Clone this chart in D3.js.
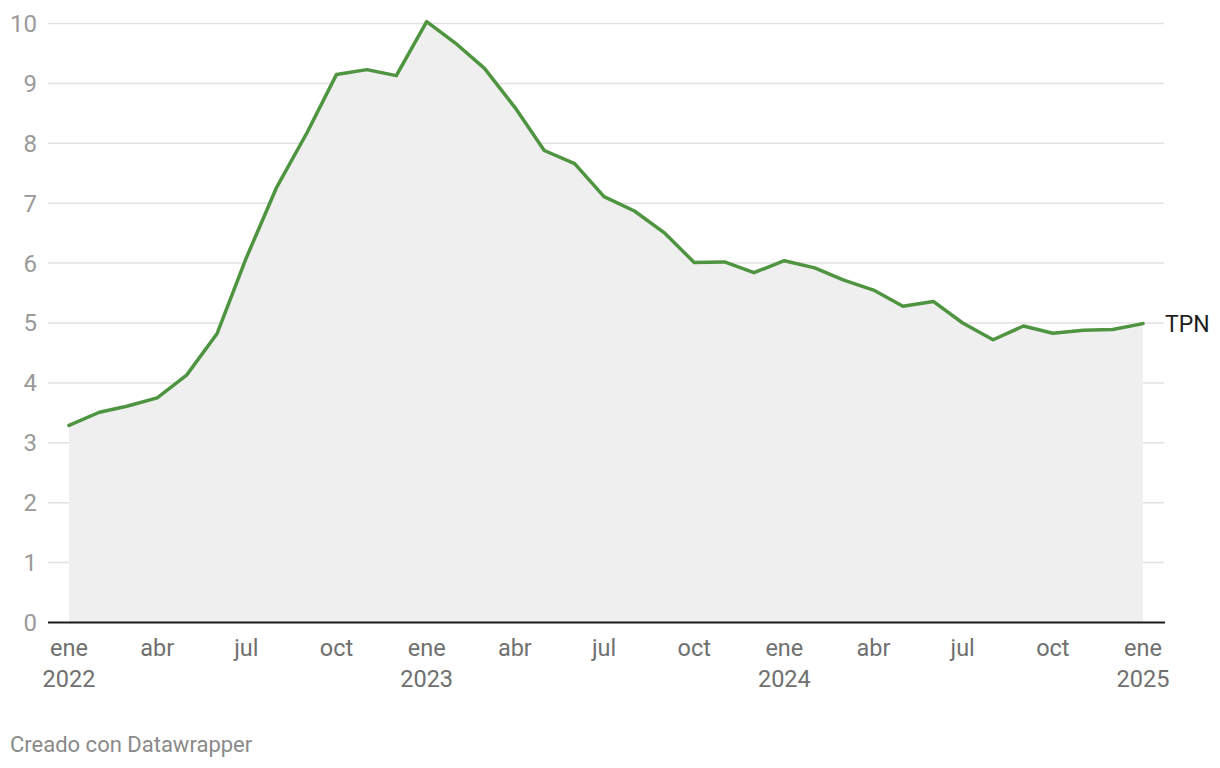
<!DOCTYPE html>
<html><head><meta charset="utf-8">
<script src="https://cdn.jsdelivr.net/npm/d3@7"></script>
<style>
body{margin:0;background:#fff;font-family:Roboto,"Noto Sans",sans-serif;}
</style></head>
<body><svg id="c" width="1220" height="768"></svg>
<script>
const seriesName = "TPN";
const startMonth = "2022-01";
const values = [3.29,3.51,3.61,3.75,4.13,4.82,6.09,7.27,8.18,9.15,9.23,9.13,
  10.03,9.65,9.25,8.60,7.88,7.66,7.11,6.87,6.50,6.01,6.02,5.84,
  6.04,5.92,5.72,5.55,5.28,5.36,5.00,4.72,4.95,4.83,4.88,4.89,
  4.99];
const yTicks = [0,1,2,3,4,5,6,7,8,9,10];
const monthLabels = ["ene","feb","mar","abr","may","jun","jul","ago","sep","oct","nov","dic"];
const xTickMonths = [0,3,6,9,12,15,18,21,24,27,30,33,36];
const creditText = "Creado con Datawrapper";

const svg = d3.select("#c");
const parse = d3.timeParse("%Y-%m");
const t0 = parse(startMonth);
const data = values.map((v,i)=>({date:d3.timeMonth.offset(t0,i), v}));

const x = d3.scaleTime().domain([data[0].date, data[data.length-1].date]).range([69,1143]);
const y = d3.scaleLinear().domain([0,10]).range([622.5,23.5]);

// gridlines
svg.append("g").selectAll("line").data(yTicks.filter(d=>d>0)).join("line")
  .attr("x1",48).attr("x2",1164)
  .attr("y1",d=>y(d)).attr("y2",d=>y(d))
  .attr("stroke","#e2e2e2").attr("stroke-width",1.5);

// area
svg.append("path").datum(data)
  .attr("d", d3.area().x(d=>x(d.date)).y0(y(0)).y1(d=>y(d.v)))
  .attr("fill","#efefef");

// y labels
svg.append("g").selectAll("text").data(yTicks).join("text")
  .attr("x",37).attr("y",d=>y(d)).attr("dy","0.35em")
  .attr("text-anchor","end").attr("fill","#9a9a9a")
  .style("font-size","24px").text(d=>d);

// baseline axis
svg.append("line").attr("x1",48).attr("x2",1165).attr("y1",y(0)).attr("y2",y(0))
  .attr("stroke","#1a1a1a").attr("stroke-width",2);

// x labels
const xt = svg.append("g");
xTickMonths.forEach(m=>{
  const d = d3.timeMonth.offset(t0,m);
  xt.append("text").attr("x",x(d)).attr("y",656)
    .attr("text-anchor","middle").attr("fill","#707070").style("font-size","23.5px")
    .text(monthLabels[d.getMonth()]);
  if(d.getMonth()===0){
    xt.append("text").attr("x",x(d)).attr("y",687)
      .attr("text-anchor","middle").attr("fill","#707070").style("font-size","23.5px")
      .text(d.getFullYear());
  }
});

// line
svg.append("path").datum(data)
  .attr("d", d3.line().x(d=>x(d.date)).y(d=>y(d.v)))
  .attr("fill","none").attr("stroke","#4f9541").attr("stroke-width",3.5)
  .attr("stroke-linejoin","round").attr("stroke-linecap","round");

// series label
const last = data[data.length-1];
svg.append("text").attr("x",x(last.date)+22).attr("y",y(last.v)).attr("dy","0.35em")
  .attr("fill","#1d1d1d").style("font-size","23px").text(seriesName);

// credit
svg.append("text").attr("x",10).attr("y",752).attr("fill","#8a8a8a")
  .style("font-size","22px").text(creditText);
</script></body></html>
